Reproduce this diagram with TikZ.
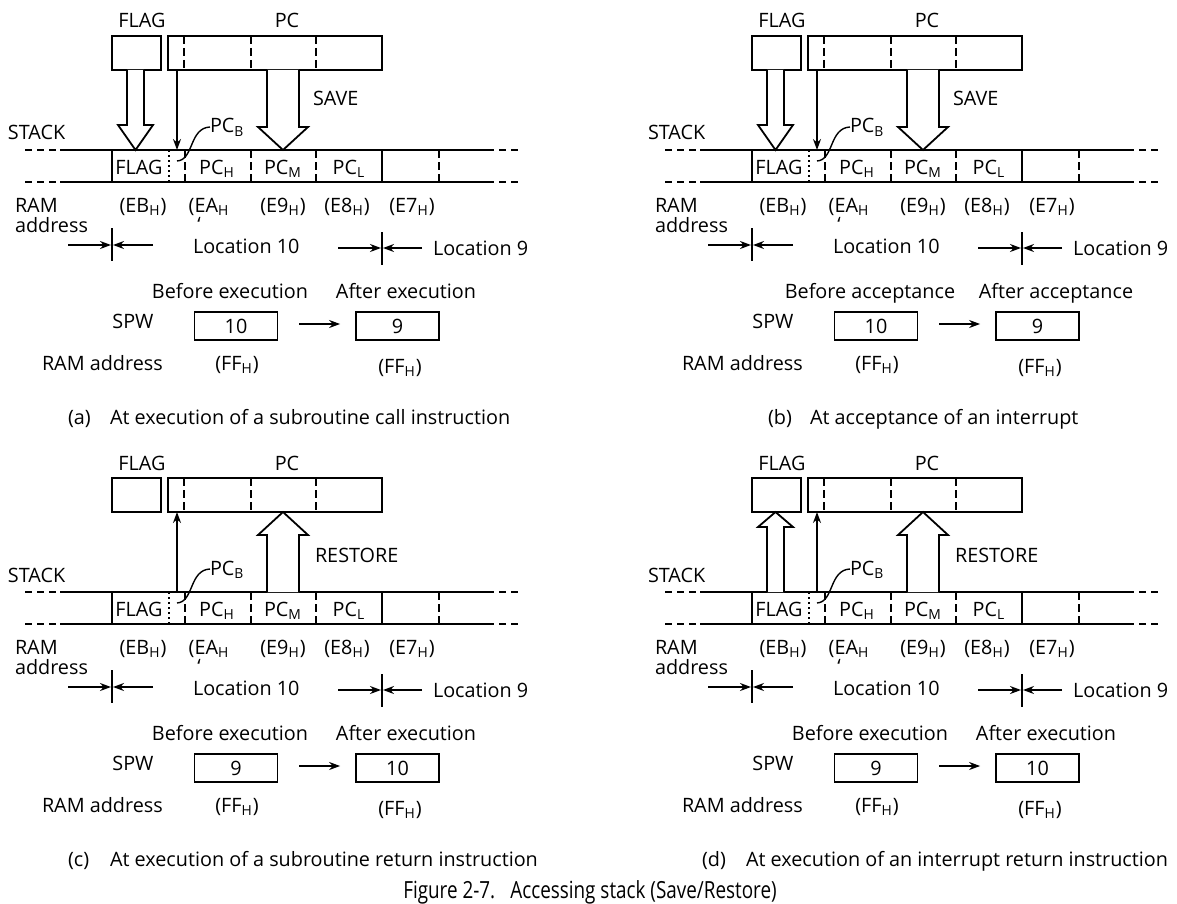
\documentclass[tikz,border=0pt]{standalone}
\usepackage{fontspec}
\setmainfont{Open Sans}
\usetikzlibrary{arrows.meta, calc, positioning}

\newcommand{\lowsub}[1]{\textsubscript{#1}}

\tikzset{
  solidline/.style={line width=0.9pt},
  celldash/.style={line width=0.9pt, dash pattern=on 4pt off 2pt},
  enddash/.style={line width=0.9pt, dash pattern=on 3.5pt off 2.5pt},
  celldot/.style={line width=0.9pt, dash pattern=on 0.9pt off 1.6pt},
  hollow/.style={draw, fill=white, line width=0.9pt, line join=miter},
  thinarrow/.style={-{Stealth[length=5.5pt, width=4pt]}, line width=0.8pt},
  locarrow/.style={-{Stealth[length=5.5pt, width=4pt]}, line width=0.8pt},
  txt/.style={inner sep=0pt, outer sep=0pt},
  spwbox/.style={draw, line width=0.9pt, minimum width=41.5pt, minimum height=14pt, inner sep=0pt}
}

% hollow block arrow: #1 foot, #2 tip, #3 half shaft, #4 half head, #5 head offset
\newcommand{\hollowarrow}[5]{%
  \draw[hollow] ($(#1)+(-#3,0)$) -- ($(#2)+(-#3,#5)$) -- ($(#2)+(-#4,#5)$) -- (#2)
    -- ($(#2)+(#4,#5)$) -- ($(#2)+(#3,#5)$) -- ($(#1)+(#3,0)$);}

% registers, stack, addresses and SPW of one panel
% #1 before text, #2 after text, #3 old SPW, #4 new SPW, #5 x of after text
\newcommand{\stackpanel}[5]{%
  % registers
  \node[txt, anchor=base] (flagname) at (142,28) {FLAG};
  \node[txt, anchor=base] (pcname) at (287,28) {PC};
  \draw[solidline] (112,36) rectangle (161,70);
  \draw[solidline] (168,36) rectangle (382,70);
  \foreach \x in {184,251,316} \draw[celldash] (\x,36) -- (\x,70);
  \coordinate (flagbot) at (135.5,70);
  \coordinate (pcbreg) at (177,70);
  \coordinate (pcmreg) at (283,70);
  % stack
  \node[txt, anchor=base west] (stackname) at (8,140) {STACK};
  \foreach \y in {150,182} {
    \draw[enddash] (25,\y) -- (60,\y);
    \draw[solidline] (60,\y) -- (487,\y);
    \draw[enddash] (487,\y) -- (522,\y);
  }
  \draw[solidline] (112,150) -- (112,182) (382,150) -- (382,182);
  \draw[celldot] (169,150) -- (169,182);
  \foreach \x in {185,251,316,439} \draw[celldash] (\x,150) -- (\x,182);
  \coordinate (flagcell) at (135.5,150);
  \coordinate (pcbcell) at (177,150);
  \coordinate (pcmcell) at (283,150);
  \node[txt, anchor=base] (cflag) at (139,174) {FLAG};
  \node[txt, anchor=base] (cpch) at (217,174) {PC\lowsub{H}};
  \node[txt, anchor=base] (cpcm) at (283,174) {PC\lowsub{M}};
  \node[txt, anchor=base] (cpcl) at (349,174) {PC\lowsub{L}};
  \node[txt, anchor=base west] (pcb) at (210,133) {PC\lowsub{B}};
  \draw[line width=0.7pt] (177,161) .. controls (194,160) and (189,128) .. ([yshift=3pt]pcb.base west);
  % RAM addresses
  \node[txt, anchor=base west] (ramname) at (15,212) {RAM};
  \node[txt, anchor=base west] (addrname) at (15,232) {address};
  \node[txt, anchor=base] (aeb) at (143,212) {(EB\lowsub{H})};
  \node[txt, anchor=base] (aea) at (209,212) {(EA\lowsub{H}};
  \node[txt, anchor=base] (aeatick) at (199,231) {\symbol{96}};
  \node[txt, anchor=base] (ae9) at (283,212) {(E9\lowsub{H})};
  \node[txt, anchor=base] (ae8) at (347,212) {(E8\lowsub{H})};
  \node[txt, anchor=base] (ae7) at (412,212) {(E7\lowsub{H})};
  % locations
  \draw[locarrow] (68,245) -- (111,245);
  \draw[locarrow] (153,245) -- (113,245);
  \draw[solidline] (112,228) -- (112,261);
  \node[txt, anchor=base west] (loc10) at (193,253) {Location 10};
  \draw[locarrow] (338,248) -- (381,248);
  \draw[locarrow] (422,248) -- (383,248);
  \draw[solidline] (382,232) -- (382,265);
  \node[txt, anchor=base west] (loc9) at (433,255) {Location 9};
  % SPW
  \node[txt, anchor=base] (before) at (230,298) {#1};
  \node[txt, anchor=base] (after) at (#5,298) {#2};
  \node[txt, anchor=base] (spwname) at (133,328) {SPW};
  \node[spwbox] (oldspw) at (236,326) {#3};
  \node[spwbox] (newspw) at (397.5,326) {#4};
  \draw[thinarrow] ($(oldspw.east)+(21,-2)$) -- ($(newspw.west)+(-15,-2)$);
  \node[txt, anchor=base west] (ramaddr) at (42,370) {RAM address};
  \node[txt, anchor=base] (ffold) at (237,370) {(FF\lowsub{H})};
  \node[txt, anchor=base] (ffnew) at (400,373) {(FF\lowsub{H})};
}

\begin{document}
\begin{tikzpicture}[x=0.5pt, y=-0.5pt, font=\fontsize{9.9}{12}\selectfont]
  \useasboundingbox (0,0) rectangle (1177,904);

  % --- (a) subroutine call ---
  \begin{scope}[name prefix=a-]
    \stackpanel{Before execution}{After execution}{10}{9}{406}
    \hollowarrow{flagbot}{flagcell}{8.5}{17.5}{-25}
    \draw[thinarrow] (pcbreg) -- (pcbcell);
    \hollowarrow{pcmreg}{pcmcell}{16}{25}{-23}
    \node[txt, anchor=base west] (save) at (313,105) {SAVE};
    \node[txt, anchor=base west] (capno) at (68,424) {(a)};
    \node[txt, anchor=base west] (captext) at (110,424) {At execution of a subroutine call instruction};
  \end{scope}

  % --- (b) interrupt acceptance ---
  \begin{scope}[shift={(640,0)}, name prefix=b-]
    \stackpanel{Before acceptance}{After acceptance}{10}{9}{416}
    \hollowarrow{flagbot}{flagcell}{8.5}{17.5}{-25}
    \draw[thinarrow] (pcbreg) -- (pcbcell);
    \hollowarrow{pcmreg}{pcmcell}{16}{25}{-23}
    \node[txt, anchor=base west] (save) at (313,105) {SAVE};
    \node[txt, anchor=base west] (capno) at (128,424) {(b)};
    \node[txt, anchor=base west] (captext) at (170,424) {At acceptance of an interrupt};
  \end{scope}

  % --- (c) subroutine return ---
  \begin{scope}[shift={(0,442)}, name prefix=c-]
    \stackpanel{Before execution}{After execution}{9}{10}{406}
    \draw[thinarrow] (pcbcell) -- (pcbreg);
    \hollowarrow{pcmcell}{pcmreg}{16}{25}{23}
    \node[txt, anchor=base west] (restore) at (315,120) {RESTORE};
    \node[txt, anchor=base west] (capno) at (68,424) {(c)};
    \node[txt, anchor=base west] (captext) at (110,424) {At execution of a subroutine return instruction};
  \end{scope}

  % --- (d) interrupt return ---
  \begin{scope}[shift={(640,442)}, name prefix=d-]
    \stackpanel{Before execution}{After execution}{9}{10}{406}
    \hollowarrow{flagcell}{flagbot}{8.5}{17.5}{15}
    \draw[thinarrow] (pcbcell) -- (pcbreg);
    \hollowarrow{pcmcell}{pcmreg}{16}{25}{23}
    \node[txt, anchor=base west] (restore) at (315,120) {RESTORE};
    \node[txt, anchor=base west] (capno) at (62,424) {(d)};
    \node[txt, anchor=base west] (captext) at (106,424) {At execution of an interrupt return instruction};
  \end{scope}

  \node[txt, anchor=base] (figtitle) at (590,898) {\fontsize{11.8}{14}\selectfont\scalebox{0.8}[1]{Figure 2-7.\hspace{0.8em}Accessing stack (Save/Restore)}};
\end{tikzpicture}
\end{document}
